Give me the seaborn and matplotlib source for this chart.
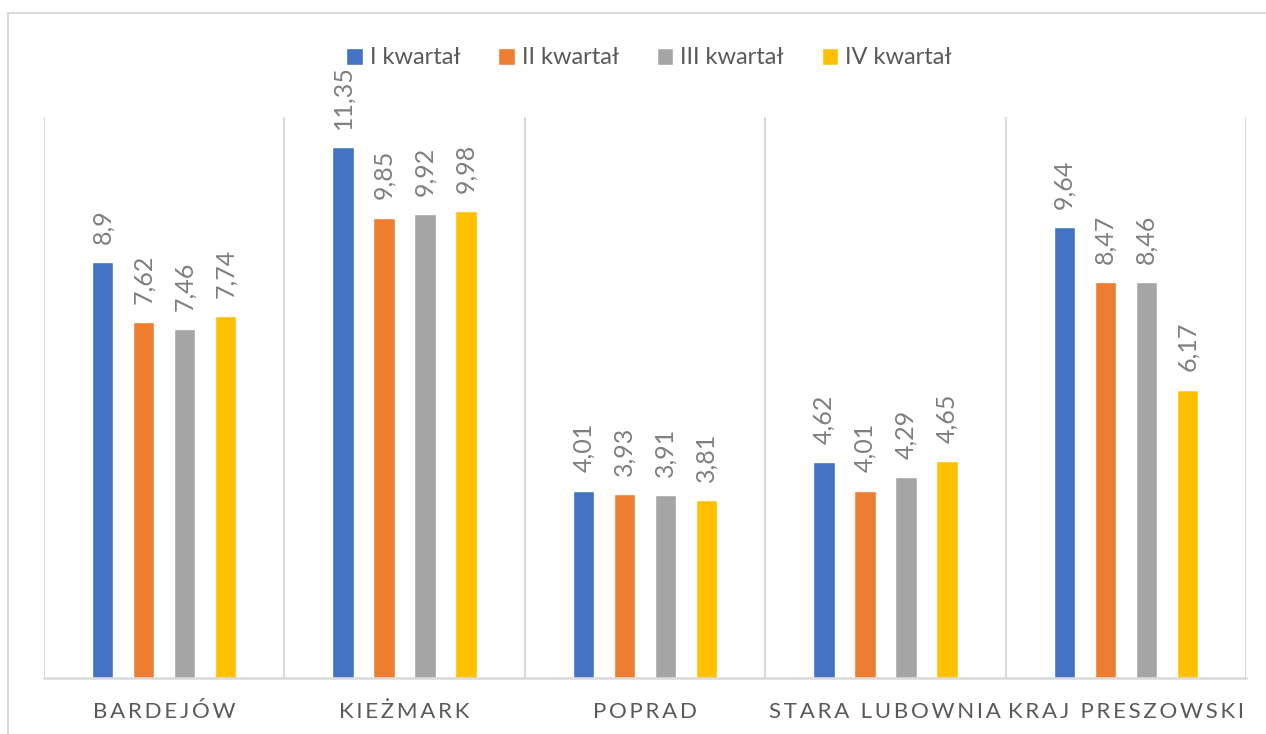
import matplotlib
matplotlib.use("Agg")
import matplotlib.pyplot as plt
import matplotlib.patches as mpatches
import seaborn as sns
import pandas as pd

categories = ["BARDEJÓW", "KIEŻMARK", "POPRAD", "STARA LUBOWNIA", "KRAJ PRESZOWSKI"]
series_names = ["I kwartał", "II kwartał", "III kwartał", "IV kwartał"]
q1 = [8.90, 11.35, 4.01, 4.62, 9.64]
q2 = [7.62, 9.85, 3.93, 4.01, 8.47]
q3 = [7.46, 9.92, 3.91, 4.29, 8.46]
q4 = [7.74, 9.98, 3.81, 4.65, 6.17]
colors = ["#4472C4", "#ED7D31", "#A5A5A5", "#FFC000"]

rows = []
for name, vals in zip(series_names, [q1, q2, q3, q4]):
    for c, v in zip(categories, vals):
        rows.append({"cat": c, "series": name, "value": v})
df = pd.DataFrame(rows)

sns.set_theme(style="white")
plt.rcParams["font.family"] = ["Lato", "DejaVu Sans"]

fig = plt.figure(figsize=(12.66, 7.34), dpi=100)
ax = fig.add_axes([44/1266, 1-678/734, (1246-44)/1266, (678-117)/734])

sns.barplot(data=df, x="cat", y="value", hue="series", order=categories,
            hue_order=series_names, palette=colors, width=0.682, gap=0.476,
            saturation=1, ax=ax, legend=True)

for cont in ax.containers:
    labels = [f"{b.get_height():g}".replace(".", ",") for b in cont]
    ax.bar_label(cont, labels=labels, rotation=90, padding=13,
                 color="#7F7F7F", fontsize=18)

ax.set_ylim(0, 12)
ax.set_xlim(-0.5, len(categories) - 0.5)
ax.set_yticks([])
ax.set_xlabel("")
ax.set_ylabel("")
for s in ["top", "right", "left"]:
    ax.spines[s].set_visible(False)
ax.spines["bottom"].set_color("#D9D9D9")
ax.spines["bottom"].set_linewidth(1.8)
for i in range(len(categories) + 1):
    ax.axvline(i - 0.5, color="#D9D9D9", lw=1.5, zorder=0)

ax.set_xticks(range(len(categories)))
ax.set_xticklabels(["\u2009".join(c) for c in categories], color="#595959", fontsize=16)
ax.tick_params(axis="x", length=0, pad=17)

handles, labs = ax.get_legend_handles_labels()
ax.get_legend().remove()
leg = fig.legend(handles, labs, loc="center", bbox_to_anchor=(649/1266, 1-58/734),
                 ncol=4, frameon=False, fontsize=17, handlelength=0.7,
                 handleheight=0.7, handletextpad=0.3, columnspacing=1.6)
for t in leg.get_texts():
    t.set_color("#595959")

border = mpatches.Rectangle((8/1266, -0.1), 1.1, 1-13/734+0.1, transform=fig.transFigure,
                            fill=False, edgecolor="#D9D9D9", lw=1.5)
fig.patches.append(border)

fig.savefig("out.png", dpi=100)
